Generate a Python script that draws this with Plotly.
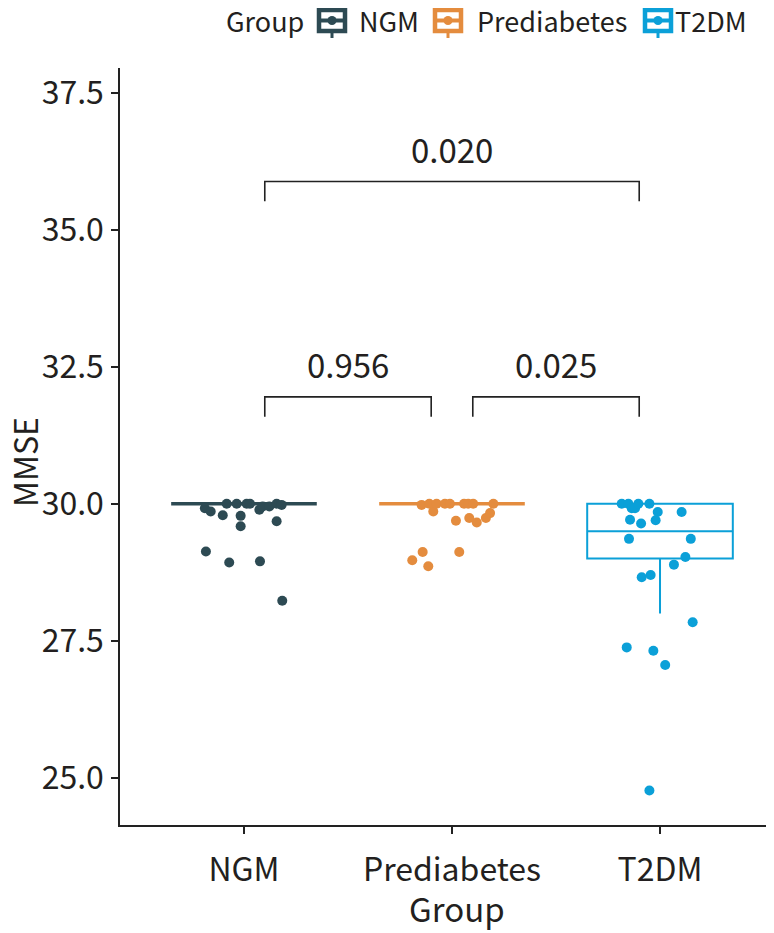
import plotly.graph_objects as go

# ---------------- data ----------------
groups = ["NGM", "Prediabetes", "T2DM"]
colors = ["#2D4A53", "#E48C3E", "#0BA0D8"]

# jittered points: horizontal offset from group centre, MMSE value (as drawn)
ngm_dx = [-0.188, -0.160, -0.083, -0.102, -0.035, -0.016, -0.016, 0.013, 0.029, 0.074,
          0.090, 0.122, 0.157, 0.181, 0.157, -0.183, -0.071, 0.077, 0.184]
ngm_y = [29.92, 29.86, 30.00, 29.79, 30.00, 29.78, 29.59, 30.00, 30.00, 29.89,
         29.95, 29.95, 30.00, 29.98, 29.68, 29.13, 28.93, 28.95, 28.23]

pre_dx = [-0.146, -0.109, -0.090, -0.074, -0.034, -0.010, 0.019, 0.058, 0.078, 0.102,
          0.083, 0.119, 0.163, 0.183, 0.199, -0.141, -0.191, -0.114, 0.035]
pre_y = [29.98, 30.00, 29.86, 30.00, 30.00, 30.00, 29.69, 30.00, 30.00, 30.00,
         29.74, 29.66, 29.74, 29.83, 30.00, 29.12, 28.97, 28.86, 29.12]

t2_dx = [-0.184, -0.152, -0.136, -0.120, -0.104, -0.051, -0.011, 0.104, -0.144, -0.091,
         -0.021, -0.149, 0.148, 0.122, 0.067, -0.088, -0.045, 0.157, -0.160, -0.032,
         0.025, -0.051]
t2_y = [30.00, 30.00, 29.92, 29.92, 30.00, 30.00, 29.85, 29.85, 29.71, 29.64,
        29.70, 29.36, 29.36, 29.03, 28.89, 28.66, 28.70, 27.84, 27.38, 27.32,
        27.06, 24.77]

points_dx = [ngm_dx, pre_dx, t2_dx]
points_y = [ngm_y, pre_y, t2_y]

# box statistics
box_q1 = [30.0, 30.0, 29.0]
box_median = [30.0, 30.0, 29.5]
box_q3 = [30.0, 30.0, 30.0]
box_lower = [30.0, 30.0, 28.0]
box_upper = [30.0, 30.0, 30.0]

# significance brackets: (group a, group b, p label, bracket height)
comp_a = [0, 1, 0]
comp_b = [1, 2, 2]
comp_p = ["0.956", "0.025", "0.020"]
comp_y = [31.95, 31.95, 35.88]

y_ticks = [25.0, 27.5, 30.0, 32.5, 35.0, 37.5]

# ---------------- style ----------------
FONT = "Noto Sans CJK SC"
TXT = "#231F20"
AX = "#222222"
OFF = 8                      # page body margin
W, H = 774 - OFF, 933 - OFF
ML, MR, MT, MB = 120 - OFF, 0, 68 - OFF, 925 - (825 - OFF)
PW, PH = W - ML - MR, H - MT - MB


def px2paper_x(px):
    return (px - OFF - ML) / PW


def px2paper_y(py):
    return (H - MB - (py - OFF)) / PH


fig = go.Figure()

box_lw = [3.5, 3.5, 2.0]
for i, g in enumerate(groups):
    fig.add_trace(go.Box(
        x=[i], q1=[box_q1[i]], median=[box_median[i]], q3=[box_q3[i]],
        lowerfence=[box_lower[i]], upperfence=[box_upper[i]],
        width=0.7, whiskerwidth=0, line=dict(color=colors[i], width=box_lw[i]),
        fillcolor="rgba(255,255,255,0)", boxpoints=False, name=g,
        showlegend=False, hoverinfo="skip"))

for i, g in enumerate(groups):
    fig.add_trace(go.Scatter(
        x=[i + d for d in points_dx[i]], y=points_y[i], mode="markers",
        marker=dict(color=colors[i], size=10, line=dict(width=0)),
        name=g, showlegend=False))

tip = 0.36
for a, b, p, yb in zip(comp_a, comp_b, comp_p, comp_y):
    xa, xb = a + 0.1, b - 0.1
    fig.add_trace(go.Scatter(
        x=[xa, xa, xb, xb], y=[yb - tip, yb, yb, yb - tip], mode="lines",
        line=dict(color=AX, width=1.6), showlegend=False, hoverinfo="skip"))
    fig.add_annotation(x=(xa + xb) / 2, y=yb + 0.6, text=p, showarrow=False,
                       xanchor="center", yanchor="middle",
                       font=dict(family=FONT, size=33, color=TXT))

# axis titles
fig.add_annotation(xref="paper", yref="paper", x=px2paper_x(457), y=px2paper_y(908),
                   text="Group", showarrow=False, xanchor="center", yanchor="middle",
                   font=dict(family=FONT, size=33, color=TXT))
fig.add_annotation(xref="paper", yref="paper", x=px2paper_x(24), y=px2paper_y(462),
                   text="MMSE", showarrow=False, textangle=-90, xanchor="center",
                   yanchor="middle", font=dict(family=FONT, size=32, color=TXT))

# manual legend (ggplot-style keys)
LEG_Y = 20.5
fig.add_annotation(xref="paper", yref="paper", x=px2paper_x(224), y=px2paper_y(LEG_Y),
                   text="Group", showarrow=False, xanchor="left", yanchor="middle",
                   font=dict(family=FONT, size=27, color=TXT))
key_x = [317, 433, 643]
text_x = [357, 475, 673]
for i, g in enumerate(groups):
    x0 = key_x[i]
    cx = x0 + 15
    c = colors[i]
    fig.add_shape(type="line", xref="paper", yref="paper",
                  x0=px2paper_x(cx), x1=px2paper_x(cx), y0=px2paper_y(3), y1=px2paper_y(38),
                  line=dict(color=c, width=3))
    fig.add_shape(type="rect", xref="paper", yref="paper",
                  x0=px2paper_x(x0 + 2), x1=px2paper_x(x0 + 28),
                  y0=px2paper_y(10), y1=px2paper_y(31),
                  line=dict(color=c, width=4.5), fillcolor="white")
    fig.add_shape(type="line", xref="paper", yref="paper",
                  x0=px2paper_x(x0 + 2), x1=px2paper_x(x0 + 28),
                  y0=px2paper_y(20.5), y1=px2paper_y(20.5),
                  line=dict(color=c, width=4))
    fig.add_shape(type="circle", xref="paper", yref="paper",
                  x0=px2paper_x(cx - 4.5), x1=px2paper_x(cx + 4.5),
                  y0=px2paper_y(16), y1=px2paper_y(25),
                  line=dict(color=c, width=0), fillcolor=c)
    fig.add_annotation(xref="paper", yref="paper", x=px2paper_x(text_x[i]), y=px2paper_y(LEG_Y),
                       text=g, showarrow=False, xanchor="left", yanchor="middle",
                       font=dict(family=FONT, size=27, color=TXT))

fig.update_layout(
    width=W, height=H,
    margin=dict(l=ML, r=MR, t=MT, b=MB),
    paper_bgcolor="white", plot_bgcolor="white",
    showlegend=False,
    font=dict(family=FONT, color=TXT),
    xaxis=dict(range=[-0.596, 2.548], tickvals=[0, 1, 2], ticktext=groups,
               showline=True, linecolor=AX, linewidth=1.5, ticks="outside",
               ticklen=7, tickwidth=1.5, tickcolor=AX, showgrid=False, zeroline=False,
               ticklabelstandoff=9,
               tickfont=dict(family=FONT, size=32, color=TXT)),
    yaxis=dict(range=[24.14, 37.95], tickvals=y_ticks,
               ticktext=[f"{v:.1f}" for v in y_ticks],
               showline=True, linecolor=AX, linewidth=1.5, ticks="outside",
               ticklen=7, tickwidth=1.5, tickcolor=AX, showgrid=False, zeroline=False,
               ticklabelstandoff=1,
               tickfont=dict(family=FONT, size=32, color=TXT)),
)

fig.write_html("out.html")
